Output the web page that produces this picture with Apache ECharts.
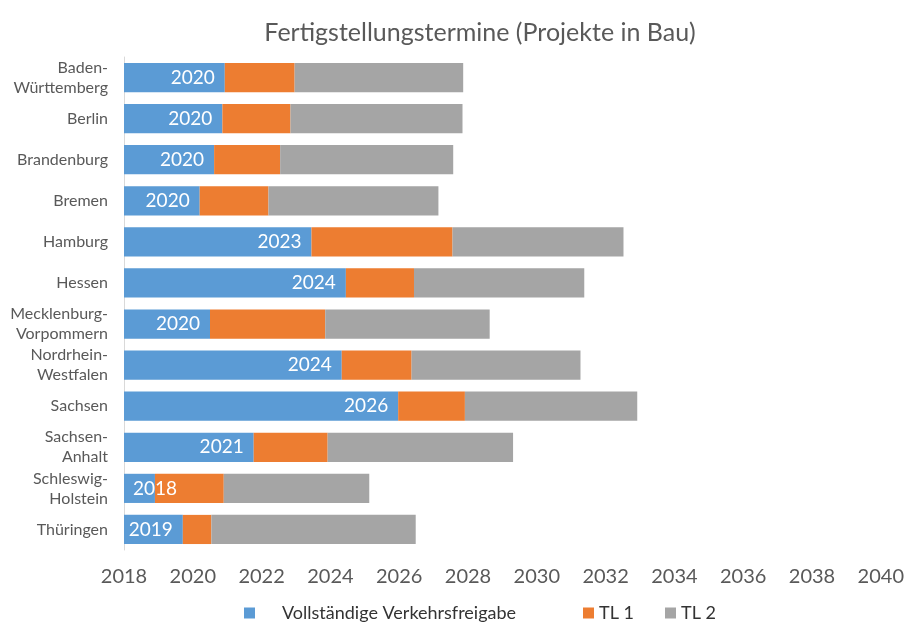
<!DOCTYPE html>
<html>
<head>
<meta charset="utf-8">
<title>Fertigstellungstermine</title>
<script src="https://cdn.jsdelivr.net/npm/echarts@6/dist/echarts.min.js"></script>
<style>
  html, body { margin: 0; padding: 0; background: #fff; }
  #main { width: 907px; height: 623px; }
</style>
</head>
<body>
<div id="main"></div>
<script>
// Länder (von oben nach unten)
var laender = ['Baden-\nWürttemberg', 'Berlin', 'Brandenburg', 'Bremen', 'Hamburg', 'Hessen',
  'Mecklenburg-\nVorpommern', 'Nordrhein-\nWestfalen', 'Sachsen', 'Sachsen-\nAnhalt',
  'Schleswig-\nHolstein', 'Thüringen'];

// Endjahre der einzelnen Abschnitte
var endeFreigabe = [2020.93, 2020.86, 2020.62, 2020.2, 2023.45, 2024.45, 2020.5, 2024.33, 2025.97, 2021.77, 2018.9, 2019.71];
var endeTL1 = [2022.96, 2022.84, 2022.54, 2022.2, 2027.55, 2026.43, 2023.85, 2026.36, 2027.91, 2023.92, 2020.9, 2020.54];
var endeTL2 = [2027.86, 2027.84, 2027.57, 2027.14, 2032.52, 2031.38, 2028.63, 2031.27, 2032.92, 2029.31, 2025.13, 2026.48];

// Beschriftung im blauen Balken
var freigabeJahr = [2020, 2020, 2020, 2020, 2023, 2024, 2020, 2024, 2026, 2021, 2018, 2019];

var startJahr = 2018;
var endJahr = 2040;
var schritt = 2;

var serienNamen = ['Vollständige Verkehrsfreigabe', 'TL 1', 'TL 2'];
var farben = ['#5B9BD5', '#ED7D31', '#A5A5A5'];

var font = 'Lato, "Open Sans", sans-serif';

// Segmentlängen für den Stapel
var segFreigabe = endeFreigabe.map(function (v, i) {
  var len = +(v - startJahr).toFixed(2);
  if (len < 1.5) {
    // zu kurz: Beschriftung links im Balken
    return { value: len, label: { position: 'insideLeft', distance: 9 } };
  }
  return len;
});
var segTL1 = endeTL1.map(function (v, i) { return +(v - endeFreigabe[i]).toFixed(2); });
var segTL2 = endeTL2.map(function (v, i) { return +(v - endeTL1[i]).toFixed(2); });

// Legende: jeweils ein Eintrag, damit die Abstände wie im Original sind
var legendeLinks = [239, 578, 660];
var legende = serienNamen.map(function (n, i) {
  return {
    data: [n],
    top: 599,
    left: legendeLinks[i],
    itemWidth: 11,
    itemHeight: 11,
    icon: 'rect',
    textStyle: {
      fontFamily: font,
      fontSize: 18,
      color: '#333',
      padding: [0, 0, 0, i === 0 ? 22 : 0]
    }
  };
});

var myChart = echarts.init(document.getElementById('main'));
myChart.setOption({
  animation: false,
  color: farben,
  title: {
    text: 'Fertigstellungstermine (Projekte in Bau)',
    left: 475,
    textAlign: 'center',
    top: 15,
    textStyle: { fontFamily: font, fontSize: 25, fontWeight: 'normal', color: '#595959' }
  },
  legend: legende,
  grid: { left: 124, right: 25, top: 57, bottom: 73 },
  xAxis: {
    type: 'value',
    min: 0,
    max: endJahr - startJahr,
    interval: schritt,
    axisLine: { show: false },
    axisTick: { show: false },
    splitLine: { show: false },
    axisLabel: {
      margin: 17,
      fontFamily: font,
      fontSize: 20,
      color: '#595959',
      formatter: function (v) { return String(v + startJahr); }
    }
  },
  yAxis: {
    type: 'category',
    inverse: true,
    data: laender,
    axisLine: { show: true, lineStyle: { color: '#d9d9d9' } },
    axisTick: { show: false },
    axisLabel: {
      margin: 16,
      fontFamily: font,
      fontSize: 16,
      lineHeight: 20,
      color: '#595959'
    }
  },
  series: [
    {
      name: serienNamen[0],
      type: 'bar',
      stack: 'termine',
      barCategoryGap: '29%',
      data: segFreigabe,
      label: {
        show: true,
        position: 'insideRight',
        distance: 10,
        color: '#fff',
        fontFamily: font,
        fontSize: 19,
        formatter: function (p) { return String(freigabeJahr[p.dataIndex]); }
      }
    },
    { name: serienNamen[1], type: 'bar', stack: 'termine', data: segTL1 },
    { name: serienNamen[2], type: 'bar', stack: 'termine', data: segTL2 }
  ]
});
</script>
</body>
</html>
